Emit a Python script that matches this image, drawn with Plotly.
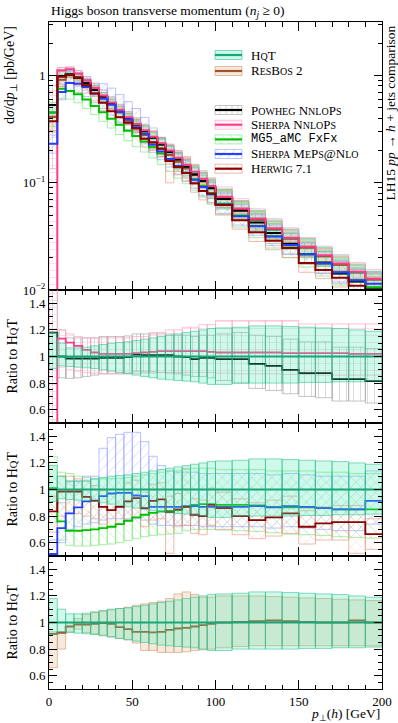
import plotly.graph_objects as go

# ---------------- data ----------------
edges = [0, 5, 10, 15, 20, 25, 30, 35, 40, 45, 50, 55, 60, 65, 70, 75, 80, 85, 90, 95,
         100, 110, 120, 130, 140, 150, 160, 170, 180, 190, 200]

# HqT absolute prediction [pb/GeV] and its uncertainty band (ratio to HqT)
hqt = [0.45, 0.99, 1.04, 0.97, 0.86, 0.745, 0.64, 0.55, 0.47, 0.40, 0.345, 0.30, 0.26, 0.225,
       0.192, 0.165, 0.142, 0.122, 0.105, 0.09, 0.072, 0.056, 0.045, 0.0365, 0.030, 0.0248,
       0.0206, 0.0172, 0.0145, 0.0125]
hqt_lo = [0.91, 0.93, 0.925, 0.92, 0.915, 0.91, 0.90, 0.89, 0.88, 0.87, 0.86, 0.85, 0.84, 0.83,
          0.825, 0.82, 0.815, 0.81, 0.80, 0.79, 0.79, 0.80, 0.80, 0.80, 0.80, 0.805, 0.805, 0.81,
          0.81, 0.815]
hqt_hi = [1.18, 1.10, 1.065, 1.065, 1.07, 1.08, 1.09, 1.10, 1.105, 1.11, 1.12, 1.13, 1.14, 1.15,
          1.16, 1.17, 1.18, 1.19, 1.20, 1.21, 1.215, 1.22, 1.23, 1.23, 1.225, 1.22, 1.215, 1.21,
          1.20, 1.19]

# Ratios to HqT (central, low, high)
resbos = [0.914, 0.923, 0.97, 0.985, 0.985, 0.99, 0.995, 0.99, 0.965, 0.95, 0.93, 0.93, 0.925,
          0.93, 0.945, 0.955, 0.96, 0.97, 0.98, 0.99, 1.0, 1.005, 1.01, 1.015, 1.01, 1.005, 1.0,
          1.0, 1.015, 1.0]
resbos_lo = [0.66, 0.80, 0.93, 0.95, 0.925, 0.915, 0.905, 0.895, 0.88, 0.87, 0.845, 0.79, 0.79,
             0.775, 0.775, 0.775, 0.78, 0.79, 0.795, 0.80, 0.81, 0.82, 0.825, 0.825, 0.825, 0.825,
             0.825, 0.825, 0.825, 0.825]
resbos_hi = [0.93, 0.93, 1.0, 1.03, 1.06, 1.075, 1.085, 1.095, 1.105, 1.115, 1.13, 1.14, 1.15,
             1.16, 1.18, 1.215, 1.23, 1.21, 1.19, 1.19, 1.2, 1.2, 1.2, 1.195, 1.19, 1.185, 1.18,
             1.175, 1.17, 1.165]

powheg = [1.18, 1.0, 0.985, 0.985, 0.985, 0.985, 0.99, 0.99, 0.99, 0.995, 1.015, 1.01, 1.01,
          1.01, 1.01, 1.0, 0.995, 0.98, 0.99, 0.99, 0.98, 0.98, 0.945, 0.93, 0.90, 0.875, 0.875,
          0.83, 0.83, 0.815]
powheg_lo = [0.30, 0.84, 0.835, 0.84, 0.85, 0.86, 0.87, 0.87, 0.87, 0.875, 0.89, 0.885, 0.885,
             0.88, 0.875, 0.87, 0.86, 0.85, 0.85, 0.84, 0.82, 0.80, 0.76, 0.745, 0.72, 0.70, 0.69,
             0.665, 0.665, 0.65]
powheg_hi = [1.80, 1.2, 1.14, 1.14, 1.14, 1.14, 1.15, 1.15, 1.15, 1.155, 1.17, 1.17, 1.17, 1.17,
             1.17, 1.16, 1.16, 1.15, 1.16, 1.16, 1.17, 1.18, 1.16, 1.15, 1.13, 1.11, 1.11, 1.07,
             1.07, 1.06]

shnn = [0.009, 1.135, 1.105, 1.08, 1.05, 1.03, 1.02, 1.02, 1.02, 1.02, 1.025, 1.03, 1.035, 1.04,
        1.04, 1.04, 1.04, 1.04, 1.04, 1.035, 1.03, 1.03, 1.03, 1.03, 1.025, 1.025, 1.025, 1.025,
        1.02, 1.02]
shnn_lo = [0.001, 0.92, 0.90, 0.89, 0.88, 0.875, 0.87, 0.87, 0.87, 0.87, 0.875, 0.875, 0.875,
           0.88, 0.88, 0.88, 0.88, 0.88, 0.88, 0.88, 0.875, 0.87, 0.87, 0.87, 0.865, 0.865, 0.86,
           0.86, 0.86, 0.86]
shnn_hi = [1.60, 1.20, 1.17, 1.15, 1.14, 1.14, 1.14, 1.14, 1.14, 1.14, 1.15, 1.15, 1.18, 1.18,
           1.20, 1.20, 1.22, 1.22, 1.24, 1.24, 1.27, 1.27, 1.27, 1.27, 1.27, 1.245, 1.245, 1.245,
           1.245, 1.245]

mg5 = [1.01, 0.76, 0.69, 0.69, 0.695, 0.70, 0.71, 0.72, 0.74, 0.765, 0.79, 0.81, 0.825, 0.835,
       0.84, 0.845, 0.87, 0.885, 0.89, 0.89, 0.885, 0.885, 0.88, 0.87, 0.865, 0.865, 0.86, 0.85,
       0.85, 0.85]
mg5_lo = [0.75, 0.62, 0.58, 0.575, 0.575, 0.58, 0.585, 0.59, 0.60, 0.615, 0.63, 0.645, 0.655,
          0.66, 0.665, 0.67, 0.69, 0.70, 0.70, 0.70, 0.695, 0.69, 0.685, 0.675, 0.665, 0.66, 0.655,
          0.645, 0.64, 0.635]
mg5_hi = [1.25, 1.13, 1.12, 1.10, 1.09, 1.08, 1.08, 1.08, 1.085, 1.09, 1.10, 1.11, 1.12, 1.13,
          1.14, 1.14, 1.15, 1.16, 1.16, 1.16, 1.15, 1.15, 1.15, 1.14, 1.14, 1.14, 1.13, 1.13,
          1.12, 1.12]

meps = [0.515, 0.71, 0.82, 0.865, 0.91, 0.915, 0.95, 0.97, 0.975, 0.975, 0.955, 0.95, 0.87,
        0.87, 0.87, 0.87, 0.875, 0.875, 0.87, 0.87, 0.87, 0.87, 0.875, 0.865, 0.875, 0.87, 0.86,
        0.85, 0.85, 0.915]
meps_lo = [0.42, 0.60, 0.70, 0.72, 0.74, 0.75, 0.77, 0.78, 0.78, 0.78, 0.78, 0.77, 0.74, 0.73,
           0.73, 0.73, 0.73, 0.73, 0.72, 0.72, 0.72, 0.72, 0.72, 0.71, 0.72, 0.71, 0.70, 0.69,
           0.69, 0.74]
meps_hi = [0.62, 0.90, 1.06, 1.06, 1.10, 1.10, 1.31, 1.39, 1.415, 1.43, 1.43, 1.36, 1.25, 1.18,
           1.14, 1.13, 1.13, 1.13, 1.12, 1.12, 1.12, 1.12, 1.12, 1.11, 1.12, 1.11, 1.10, 1.10,
           1.10, 1.14]

herwig = [0.835, 0.985, 0.985, 0.985, 0.945, 0.916, 0.87, 0.845, 0.87, 0.91, 0.935, 0.86, 0.915,
          0.925, 0.83, 0.85, 0.87, 0.81, 0.80, 0.885, 0.86, 0.80, 0.77, 0.79, 0.82, 0.72, 0.745,
          0.755, 0.755, 0.665]
herwig_lo = [0.68, 0.80, 0.82, 0.82, 0.80, 0.78, 0.74, 0.72, 0.74, 0.77, 0.79, 0.72, 0.77, 0.78,
             0.52, 0.72, 0.73, 0.67, 0.66, 0.73, 0.70, 0.66, 0.63, 0.65, 0.67, 0.59, 0.62, 0.62,
             0.52, 0.55]
herwig_hi = [0.95, 1.10, 1.10, 1.08, 1.06, 1.03, 0.99, 0.97, 1.00, 1.05, 1.07, 0.98, 1.04, 1.05,
             0.95, 0.97, 1.16, 0.93, 0.92, 1.01, 0.98, 0.93, 0.90, 0.92, 0.95, 0.84, 0.87, 0.88,
             0.88, 0.78]

x_ticks = [0, 50, 100, 150, 200]
ratio_ticks = [0.6, 0.8, 1.0, 1.2, 1.4]
ratio_ticktext = ["0.6", "0.8", "1", "1.2", "1.4"]
main_ticks = [0.01, 0.1, 1]
main_ticktext = ["10<sup>−2</sup>", "10<sup>−1</sup>", "1"]

# ---------------- styles ----------------
FONT = "Liberation Serif"
FS = 13
ST = {
    "hqt":    dict(line="#17a676", fill="rgba(70,232,175,0.26)", edge="rgba(40,190,140,0.7)", pat=None),
    "resbos": dict(line="#a0522d", fill="rgba(222,175,130,0.26)", edge="rgba(205,145,95,0.7)", pat=None),
    "powheg": dict(line="#000000", fill=None, edge="rgba(150,150,150,0.7)", pat="|", pc="rgba(140,140,140,0.75)"),
    "shnn":   dict(line="#ff3d8b", fill=None, edge="rgba(255,160,195,0.8)", pat="-", pc="rgba(255,160,195,0.8)"),
    "mg5":    dict(line="#00c000", fill=None, edge="rgba(120,230,120,0.8)", pat="\\", pc="rgba(110,225,110,0.8)"),
    "meps":   dict(line="#2440ff", fill=None, edge="rgba(150,160,255,0.8)", pat="/", pc="rgba(140,150,255,0.8)"),
    "herwig": dict(line="#8b0000", fill=None, edge="rgba(230,150,130,0.8)", pat="x", pc="rgba(230,150,130,0.8)"),
}

fig = go.Figure()


def boxes(lo, hi):
    xs, ys = [], []
    for i in range(len(lo)):
        x0, x1 = edges[i], edges[i + 1]
        xs += [x0, x1, x1, x0, x0, None]
        ys += [lo[i], lo[i], hi[i], hi[i], lo[i], None]
    return xs, ys


def add_band(key, lo, hi, xa, ya):
    s = ST[key]
    xs, ys = boxes(lo, hi)
    kw = dict(x=xs, y=ys, mode="lines", fill="toself", xaxis=xa, yaxis=ya,
              line=dict(color=s["edge"], width=0.8), hoverinfo="skip", showlegend=False)
    if s["pat"]:
        kw["fillcolor"] = "rgba(0,0,0,0)"
        kw["fillpattern"] = dict(shape=s["pat"], fgcolor=s["pc"], bgcolor="rgba(0,0,0,0)",
                                 size=7, solidity=0.12, fillmode="overlay")
    else:
        kw["fillcolor"] = s["fill"]
    fig.add_trace(go.Scatter(**kw))


def add_line(key, vals, xa, ya, width=2):
    fig.add_trace(go.Scatter(x=edges, y=list(vals) + [vals[-1]], mode="lines",
                             line=dict(color=ST[key]["line"], width=width, shape="hv"),
                             xaxis=xa, yaxis=ya, hoverinfo="skip", showlegend=False))


def absol(r):
    return [a * b for a, b in zip(hqt, r)]


ones = [1.0] * len(hqt)
gens = [("powheg", powheg, powheg_lo, powheg_hi), ("shnn", shnn, shnn_lo, shnn_hi),
        ("mg5", mg5, mg5_lo, mg5_hi), ("meps", meps, meps_lo, meps_hi),
        ("herwig", herwig, herwig_lo, herwig_hi)]

# ---- main panel ----
add_band("hqt", absol(hqt_lo), absol(hqt_hi), "x", "y")
add_band("resbos", absol(resbos_lo), absol(resbos_hi), "x", "y")
for k, c, lo, hi in gens:
    add_band(k, absol(lo), absol(hi), "x", "y")
add_line("hqt", hqt, "x", "y")
add_line("resbos", absol(resbos), "x", "y")
for k, c, lo, hi in gens:
    add_line(k, absol(c), "x", "y")

# ---- ratio panels ----
panels = [("x2", "y2", gens[0:2]), ("x3", "y3", gens[2:5]), ("x4", "y4", [("resbos", resbos, resbos_lo, resbos_hi)])]
for xa, ya, glist in panels:
    for k, c, lo, hi in glist:
        add_band(k, lo, hi, xa, ya)
    for k, c, lo, hi in glist:
        add_line(k, c, xa, ya, width=1.8)
    add_band("hqt", hqt_lo, hqt_hi, xa, ya)
    add_line("hqt", ones, xa, ya, width=1.8)

# ---------------- layout ----------------
L, R, T, B = 49, 16, 22, 34
W, H = 398, 723
PW, PH = W - L - R, H - T - B
fr = 133 / PH


def xp(px):
    return (px - L) / PW


def yp(py):
    return (H - B - py) / PH


xminor = [v for v in range(10, 200, 10) if v % 50]
axis_common = dict(showgrid=False, zeroline=False, showline=True, linecolor="black", linewidth=1,
                   mirror="allticks", ticks="inside", tickcolor="black", tickwidth=1,
                   automargin=False, tickfont=dict(family=FONT, size=FS, color="black"))
xcommon = dict(axis_common, range=[0, 200], tickvals=x_ticks, ticklen=9,
               minor=dict(tickvals=xminor, ticks="inside", ticklen=4.5, tickcolor="black"))
rminor = [0.55, 0.65, 0.7, 0.75, 0.85, 0.9, 0.95, 1.05, 1.1, 1.15, 1.25, 1.3, 1.35, 1.45]
rcommon = dict(axis_common, range=[0.5, 1.5], tickvals=ratio_ticks, ticktext=ratio_ticktext, ticklen=8,
               minor=dict(tickvals=rminor, ticks="inside", ticklen=4, tickcolor="black"))
mminor = [k * 10 ** e for e in (-2, -1, 0) for k in range(2, 10) if k * 10 ** e < 3.1]

fig.update_layout(
    template="none",
    width=W, height=H, margin=dict(l=L, r=R, t=T, b=B, autoexpand=False),
    paper_bgcolor="white", plot_bgcolor="rgba(0,0,0,0)", showlegend=False,
    font=dict(family=FONT, size=FS, color="black"),
    xaxis=dict(xcommon, anchor="y", showticklabels=False),
    xaxis2=dict(xcommon, anchor="y2", showticklabels=False, matches="x"),
    xaxis3=dict(xcommon, anchor="y3", showticklabels=False, matches="x"),
    xaxis4=dict(xcommon, anchor="y4", showticklabels=True, matches="x"),
    yaxis=dict(axis_common, type="log", range=[-2, 0.5], domain=[3 * fr, 1], anchor="x",
               tickvals=main_ticks, ticktext=main_ticktext, ticklen=8,
               minor=dict(tickvals=mminor, ticks="inside", ticklen=4, tickcolor="black")),
    yaxis2=dict(rcommon, domain=[2 * fr, 3 * fr], anchor="x2"),
    yaxis3=dict(rcommon, domain=[fr, 2 * fr], anchor="x3"),
    yaxis4=dict(rcommon, domain=[0, fr], anchor="x4"),
    xaxis5=dict(domain=[0, 1], range=[L, W - R], visible=False, anchor="y5", automargin=False),
    yaxis5=dict(domain=[0, 1], range=[H - B, T], visible=False, anchor="x5", automargin=False),
)

# ---------------- legend (drawn in pixel-coordinate overlay axis) ----------------
leg_rows = [("hqt", "HqT", 55), ("resbos", "ResBos 2", 71), ("powheg", "Powheg NnloPs", 110),
            ("shnn", "Sherpa NnloPs", 124.7), ("mg5", "MG5_aMC FxFx", 139.4),
            ("meps", "Sherpa MePs@Nlo", 154), ("herwig", "Herwig 7.1", 168.7)]


def sc(s, size=10):
    out, buf = "", ""
    for ch in s:
        if ch.islower():
            buf += ch.upper()
        else:
            if buf:
                out += f"<span style='font-size:{size}px'>{buf}</span>"
                buf = ""
            out += ch
    if buf:
        out += f"<span style='font-size:{size}px'>{buf}</span>"
    return out


annotations = []
for key, label, yc in leg_rows:
    s = ST[key]
    kw = dict(x=[215, 242, 242, 215, 215], y=[yc - 4.5, yc - 4.5, yc + 4.5, yc + 4.5, yc - 4.5],
              mode="lines", fill="toself", xaxis="x5", yaxis="y5",
              line=dict(color=s["edge"], width=0.8), hoverinfo="skip", showlegend=False)
    if s["pat"]:
        kw["fillcolor"] = "rgba(0,0,0,0)"
        kw["fillpattern"] = dict(shape=s["pat"], fgcolor=s["pc"], bgcolor="rgba(0,0,0,0)",
                                 size=6, solidity=0.15, fillmode="overlay")
    else:
        kw["fillcolor"] = s["fill"]
    fig.add_trace(go.Scatter(**kw))
    fig.add_trace(go.Scatter(x=[215, 242], y=[yc, yc], mode="lines", xaxis="x5", yaxis="y5",
                             line=dict(color=s["line"], width=2.2), hoverinfo="skip", showlegend=False))
    if key == "mg5":
        txt, fnt = label, dict(family="Liberation Mono", size=12)
    else:
        txt, fnt = sc(label), dict(family=FONT, size=FS)
    annotations.append(dict(x=xp(249), y=yp(yc), xref="paper", yref="paper", text=txt,
                            showarrow=False, xanchor="left", yanchor="middle", font=fnt))

# ---------------- texts ----------------
annotations += [
    dict(x=xp(L), y=yp(12), xref="paper", yref="paper", xanchor="left", yanchor="middle",
         text="Higgs boson transverse momentum (<i>n<sub>j</sub></i> ≥ 0)", showarrow=False,
         font=dict(family=FONT, size=13.5)),
    dict(x=xp(11), y=yp(24), xref="paper", yref="paper", xanchor="center", yanchor="top",
         text="d<i>σ</i>/d<i>p</i><sub>⊥</sub> [pb/GeV]", textangle=-90, showarrow=False,
         font=dict(family=FONT, size=14)),
    dict(x=xp(390), y=yp(23), xref="paper", yref="paper", xanchor="center", yanchor="top",
         text="LH15 <i>pp</i> → <i>h</i> + jets comparison", textangle=-90, showarrow=False,
         font=dict(family=FONT, size=13.5)),
    dict(x=xp(W - R), y=yp(714), xref="paper", yref="paper", xanchor="right", yanchor="middle",
         text="<i>p</i><sub>⊥</sub>(<i>h</i>) [GeV]", showarrow=False, font=dict(family=FONT, size=13.5)),
]
for yc in (356.5, 489.5, 622.5):
    annotations.append(dict(x=xp(12), y=yp(yc), xref="paper", yref="paper", xanchor="center",
                            yanchor="middle", text="Ratio to " + sc("HqT", 10.5), textangle=-90,
                            showarrow=False, font=dict(family=FONT, size=14)))
fig.update_layout(annotations=annotations)

fig.write_html("out.html", config={"displayModeBar": False},
               post_script="document.body.style.margin='0';document.body.style.padding='0';")
